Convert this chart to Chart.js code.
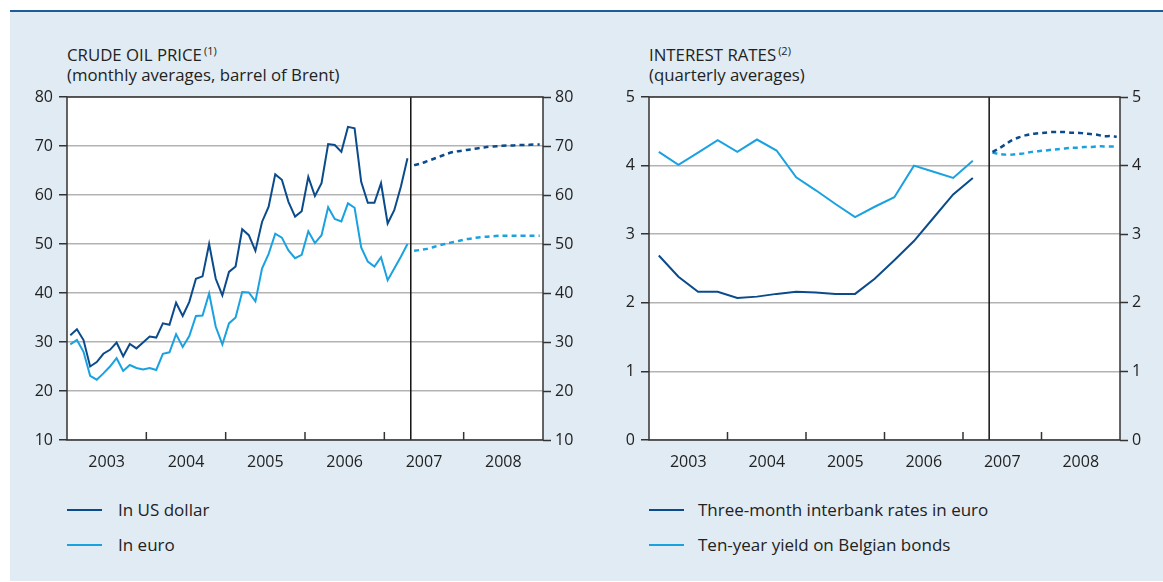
<!DOCTYPE html>
<html>
<head>
<meta charset="utf-8">
<script src="https://cdn.jsdelivr.net/npm/chart.js@4.4.1/dist/chart.umd.min.js"></script>
<style>
html,body{margin:0;padding:0;background:#fff;width:1163px;height:582px;overflow:hidden;font-family:"Open Sans",sans-serif;color:#222;}
#panel{position:absolute;left:10px;top:10px;width:1153px;height:571px;background:#e1ebf3;border-top:2px solid #1f5b9b;box-sizing:border-box;}
canvas{position:absolute;}
.title{position:absolute;font-size:16.8px;line-height:20px;white-space:nowrap;}
.title sup{font-size:11px;vertical-align:top;position:relative;top:-4px;margin-left:2px;}
.leg{position:absolute;font-size:17px;line-height:20px;white-space:nowrap;}
.sw{position:absolute;width:35px;height:2px;}
</style>
</head>
<body>
<div id="panel"></div>
<div class="title" style="left:67px;top:45px;">CRUDE OIL PRICE<sup>(1)</sup><br>(monthly averages, barrel of Brent)</div>
<div class="title" style="left:649px;top:45px;">INTEREST RATES<sup>(2)</sup><br>(quarterly averages)</div>
<canvas id="oil" width="590" height="410" style="left:0;top:80px;"></canvas>
<canvas id="rates" width="583" height="410" style="left:580px;top:80px;"></canvas>
<div class="sw" style="left:67px;top:509px;background:#0b4b8c;"></div>
<div class="leg" style="left:118px;top:500px;">In US dollar</div>
<div class="sw" style="left:67px;top:544px;background:#1aa2e0;"></div>
<div class="leg" style="left:118px;top:535px;">In euro</div>
<div class="sw" style="left:649px;top:509px;background:#0b4b8c;"></div>
<div class="leg" style="left:698px;top:500px;">Three-month interbank rates in euro</div>
<div class="sw" style="left:649px;top:544px;background:#1aa2e0;"></div>
<div class="leg" style="left:698px;top:535px;">Ten-year yield on Belgian bonds</div>
<script>
// ---- data ----
const years = ['2003','2004','2005','2006','2007','2008'];
// monthly Brent, Jan 2003 - Apr 2007
const usd = [31.4,32.6,30.4,25.0,25.9,27.6,28.4,29.9,27.1,29.6,28.7,29.9,
             31.1,30.9,33.8,33.5,38.0,35.3,38.2,42.9,43.4,50.0,42.9,39.5,
             44.3,45.4,53.0,51.8,48.6,54.5,57.6,64.2,63.1,58.6,55.6,56.7,
             63.7,59.8,62.4,70.4,70.2,68.8,73.9,73.6,62.7,58.4,58.4,62.4,
             54.2,56.9,61.7,67.5];
const eur = [29.5,30.4,28.0,23.1,22.3,23.6,25.0,26.7,24.1,25.3,24.7,24.4,
             24.7,24.3,27.6,27.9,31.6,29.0,31.2,35.3,35.4,39.9,33.1,29.5,
             33.8,35.0,40.2,40.1,38.3,45.0,48.0,52.1,51.3,48.7,47.1,47.8,
             52.6,50.2,51.8,57.5,55.1,54.6,58.3,57.4,49.3,46.4,45.4,47.3,
             42.6,45.0,47.4,50.0];
// forward prices, May 2007 - Dec 2008
const usdForecast = [66.1,66.4,66.9,67.4,67.9,68.4,68.8,69.0,69.2,69.4,
                     69.6,69.8,69.9,70.0,70.1,70.1,70.2,70.2,70.3,70.3];
const eurForecast = [48.6,48.8,49.0,49.4,49.8,50.1,50.4,50.7,51.0,51.2,
                     51.4,51.5,51.6,51.7,51.7,51.7,51.7,51.7,51.7,51.7];
// quarterly averages, Q1 2003 - Q1 2007
const euribor   = [2.69,2.38,2.16,2.16,2.07,2.09,2.13,2.16,2.15,2.13,2.13,2.35,2.62,2.90,3.24,3.58,3.82];
const bondYield = [4.20,4.01,4.19,4.37,4.20,4.38,4.22,3.83,3.64,3.44,3.25,3.40,3.54,4.00,3.91,3.82,4.07];
// expected rates, May 2007 - Dec 2008
const euriborForecast = [4.20,4.25,4.31,4.37,4.41,4.44,4.46,4.47,4.48,4.49,
                         4.49,4.49,4.48,4.48,4.47,4.46,4.45,4.43,4.43,4.42];
const bondForecast    = [4.19,4.17,4.16,4.16,4.17,4.18,4.20,4.21,4.22,4.23,
                         4.24,4.25,4.26,4.26,4.27,4.27,4.28,4.28,4.28,4.28];
const FORECAST_START = 52; // month index of May 2007 (Jan 2003 = 0)
const TOTAL_MONTHS = 72;

// ---- helpers ----
const DARK = '#0b4b8c', LIGHT = '#1aa2e0', GRID = '#b3b3b3', AXIS = '#333333';
const monthly = (vals, start) => vals.map((v, i) => ({x: start + i + 0.5, y: v}));
const quarterly = vals => vals.map((v, i) => ({x: i * 3 + 1.5, y: v}));

Chart.defaults.font.family = "'Open Sans', sans-serif";
Chart.defaults.font.size = 16;
Chart.defaults.color = '#222';

const framePlugin = {
  id: 'frame',
  beforeDraw(chart) {
    const {ctx, chartArea: a} = chart;
    ctx.save(); ctx.fillStyle = '#fff';
    ctx.fillRect(a.left, a.top, a.width, a.height); ctx.restore();
  },
  afterDraw(chart) {
    const {ctx, chartArea: a, scales: {x}} = chart;
    ctx.save();
    ctx.strokeStyle = AXIS; ctx.lineWidth = 1.5;
    for (let m = 12; m < TOTAL_MONTHS; m += 12) {
      const px = x.getPixelForValue(m);
      ctx.beginPath(); ctx.moveTo(px, a.bottom - 8); ctx.lineTo(px, a.bottom); ctx.stroke();
    }
    ctx.strokeStyle = '#111';
    const dx = x.getPixelForValue(FORECAST_START);
    ctx.beginPath(); ctx.moveTo(dx, a.top); ctx.lineTo(dx, a.bottom); ctx.stroke();
    ctx.strokeStyle = AXIS;
    ctx.strokeRect(a.left, a.top, a.width, a.height);
    ctx.restore();
  }
};

function line(label, data, color, dashed) {
  return {label, data, borderColor: color, backgroundColor: color,
    borderWidth: dashed ? 2.5 : 2, borderDash: dashed ? [5, 4] : [],
    pointRadius: 0, tension: dashed ? 0.3 : 0, fill: false};
}

function makeOptions(min, max, step, leftW, rightW) {
  return {
    responsive: false, animation: false, devicePixelRatio: 1,
    layout: {padding: {top: 17, left: 0, right: 0, bottom: 0}},
    plugins: {legend: {display: false}, tooltip: {enabled: false}},
    scales: {
      x: {type: 'linear', min: 0, max: TOTAL_MONTHS,
        afterBuildTicks: s => { s.ticks = years.map((y, i) => ({value: i * 12 + 6})); },
        ticks: {callback: v => years[Math.round((v - 6) / 12)], padding: 13, maxRotation: 0, autoSkip: false},
        grid: {display: false, drawTicks: false}, border: {display: false},
        afterFit: s => { s.height = 50; }},
      y: {position: 'left', min, max,
        ticks: {stepSize: step, padding: 6},
        grid: {color: GRID, lineWidth: 1.5, tickLength: 8, tickColor: AXIS, tickWidth: 1.5},
        border: {display: false},
        afterFit: s => { s.width = leftW; }},
      y2: {position: 'right', min, max,
        ticks: {stepSize: step, padding: 4},
        grid: {drawOnChartArea: false, tickLength: 8, tickColor: AXIS, tickWidth: 1.5},
        border: {display: false},
        afterFit: s => { s.width = rightW; }}
    }
  };
}

new Chart(document.getElementById('oil'), {
  type: 'line',
  data: {datasets: [
    line('In US dollar', monthly(usd, 0), DARK, false),
    line('In euro', monthly(eur, 0), LIGHT, false),
    line('In US dollar (forward)', monthly(usdForecast, FORECAST_START), DARK, true),
    line('In euro (forward)', monthly(eurForecast, FORECAST_START), LIGHT, true)
  ]},
  options: makeOptions(10, 80, 10, 67, 47),
  plugins: [framePlugin]
});

new Chart(document.getElementById('rates'), {
  type: 'line',
  data: {datasets: [
    line('Three-month interbank rates in euro', quarterly(euribor), DARK, false),
    line('Ten-year yield on Belgian bonds', quarterly(bondYield), LIGHT, false),
    line('Three-month interbank rates (expected)', monthly(euriborForecast, FORECAST_START), DARK, true),
    line('Ten-year yield (expected)', monthly(bondForecast, FORECAST_START), LIGHT, true)
  ]},
  options: makeOptions(0, 5, 1, 69, 43),
  plugins: [framePlugin]
});
</script>
</body>
</html>
